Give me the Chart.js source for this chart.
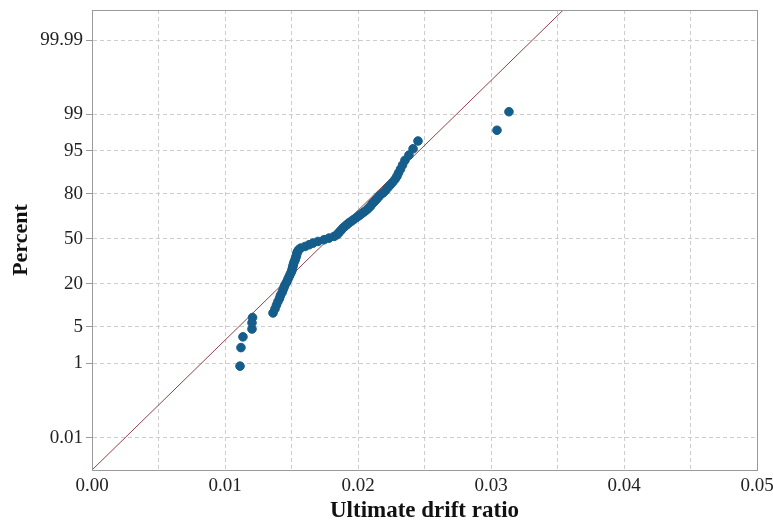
<!DOCTYPE html>
<html>
<head>
<meta charset="utf-8">
<script src="https://cdn.jsdelivr.net/npm/chart.js@4"></script>
<style>
  body { margin: 0; background: #fff; }
  #wrap { width: 773px; height: 524px; }
</style>
</head>
<body>
<div id="wrap"><canvas id="probPlot" width="773" height="524"></canvas></div>
<script>
// Ultimate drift ratio (sorted sample)
const driftRatio = [
  0.01113, 0.01120, 0.01135, 0.01203, 0.01203, 0.01207, 0.01361, 0.01376, 0.01387, 0.01398,
  0.01410, 0.01417, 0.01429, 0.01436, 0.01444, 0.01451, 0.01462, 0.01470, 0.01477, 0.01485,
  0.01492, 0.01500, 0.01504, 0.01508, 0.01511, 0.01515, 0.01519, 0.01526, 0.01530, 0.01534,
  0.01538, 0.01541, 0.01545, 0.01553, 0.01568, 0.01602, 0.01632, 0.01662, 0.01699, 0.01744,
  0.01782, 0.01820, 0.01842, 0.01853, 0.01865, 0.01876, 0.01887, 0.01902, 0.01917, 0.01932,
  0.01951, 0.01970, 0.01989, 0.02008, 0.02026, 0.02045, 0.02064, 0.02079, 0.02094, 0.02105,
  0.02120, 0.02135, 0.02150, 0.02165, 0.02188, 0.02207, 0.02222, 0.02241, 0.02259, 0.02278,
  0.02293, 0.02305, 0.02320, 0.02335, 0.02353, 0.02383, 0.02414, 0.02451, 0.03045, 0.03135
];

// Cumulative percent of each point
const percentRank = [
  0.87, 2.11, 3.36, 4.60, 5.85, 7.09, 8.33, 9.58, 10.82, 12.07,
  13.31, 14.55, 15.80, 17.04, 18.28, 19.53, 20.77, 22.01, 23.26, 24.50,
  25.75, 26.99, 28.23, 29.48, 30.72, 31.97, 33.21, 34.45, 35.70, 36.94,
  38.18, 39.43, 40.67, 41.92, 43.16, 44.40, 45.65, 46.89, 48.13, 49.38,
  50.62, 51.87, 53.11, 54.35, 55.60, 56.84, 58.08, 59.33, 60.57, 61.82,
  63.06, 64.30, 65.55, 66.79, 68.03, 69.28, 70.52, 71.77, 73.01, 74.25,
  75.50, 76.74, 77.99, 79.23, 80.47, 81.72, 82.96, 84.20, 85.45, 86.69,
  87.94, 89.18, 90.42, 91.67, 92.91, 94.15, 95.40, 96.64, 97.89, 99.13
];

// Fitted normal line (mean, standard deviation)
const fitMean = 0.0178;
const fitSigma = 0.00412;
const fitLineX = [0, 0.05];

// Percent axis ticks
const yTickPercents = [0.01, 1, 5, 20, 50, 80, 95, 99, 99.99];
const yTickLabels = ["0.01", "1", "5", "20", "50", "80", "95", "99", "99.99"];

// inverse of the standard normal CDF (Acklam)
function probit(p) {
    const a = [-3.969683028665376e+01, 2.209460984245205e+02, -2.759285104469687e+02, 1.383577518672690e+02, -3.066479806614716e+01, 2.506628277459239e+00];
    const b = [-5.447609879822406e+01, 1.615858368580409e+02, -1.556989798598866e+02, 6.680131188771972e+01, -1.328068155288572e+01];
    const c = [-7.784894002430293e-03, -3.223964580411365e-01, -2.400758277161838e+00, -2.549732539343734e+00, 4.374664141464968e+00, 2.938163982698783e+00];
    const d = [7.784695709041462e-03, 3.224671290700398e-01, 2.445134137142996e+00, 3.754408661907416e+00];
    const pl = 0.02425;
    let q, r;
    if (p < pl) {
        q = Math.sqrt(-2 * Math.log(p));
        return (((((c[0]*q+c[1])*q+c[2])*q+c[3])*q+c[4])*q+c[5]) / ((((d[0]*q+d[1])*q+d[2])*q+d[3])*q+1);
    }
    if (p > 1 - pl) {
        q = Math.sqrt(-2 * Math.log(1 - p));
        return -(((((c[0]*q+c[1])*q+c[2])*q+c[3])*q+c[4])*q+c[5]) / ((((d[0]*q+d[1])*q+d[2])*q+d[3])*q+1);
    }
    q = p - 0.5;
    r = q * q;
    return (((((a[0]*r+a[1])*r+a[2])*r+a[3])*r+a[4])*r+a[5])*q / (((((b[0]*r+b[1])*r+b[2])*r+b[3])*r+b[4])*r+1);
}

const yTickZ = yTickPercents.map((p) => probit(p / 100));
const puntos = driftRatio.map((x, i) => ({ x: x, y: probit(percentRank[i] / 100) }));
const linea = fitLineX.map((x) => ({ x: x, y: (x - fitMean) / fitSigma }));

// marco completo alrededor del area de trazado
const marco = {
    id: "marco",
    afterDatasetsDraw(chart) {
        const { ctx, chartArea: a } = chart;
        ctx.save();
        ctx.strokeStyle = "#9a9a9a";
        ctx.lineWidth = 1;
        ctx.strokeRect(a.left + 0.5, a.top + 0.5, a.right - a.left, a.bottom - a.top);
        ctx.restore();
    }
};

const serif = "'Liberation Serif', 'Times New Roman', serif";

new Chart(document.getElementById("probPlot").getContext("2d"), {
    type: "scatter",
    data: {
        datasets: [
            {
                data: puntos,
                backgroundColor: "#155d8b",
                borderColor: "#155d8b",
                pointRadius: 4.3,
                pointHoverRadius: 4.3,
                order: 0
            },
            {
                type: "line",
                data: linea,
                borderColor: "#8e4246",
                borderWidth: 1,
                pointRadius: 0,
                fill: false,
                order: 1
            }
        ]
    },
    options: {
        responsive: false,
        animation: false,
        layout: { padding: { left: 0, right: 16, top: 10, bottom: 0 } },
        plugins: { legend: { display: false }, tooltip: { enabled: false } },
        scales: {
            x: {
                type: "linear",
                min: 0,
                max: 0.05,
                afterFit(scale) {
                    scale.height = 54;
                    scale.paddingLeft = 0;
                    scale.paddingRight = 0;
                },
                border: { display: true, color: "#9a9a9a", dash: [4, 3] },
                grid: { color: "#cdcdcd", drawTicks: false },
                ticks: {
                    stepSize: 0.005,
                    autoSkip: false,
                    maxRotation: 0,
                    padding: 5,
                    color: "#222",
                    font: { family: serif, size: 19 },
                    callback(v) {
                        return Math.abs(v * 100 - Math.round(v * 100)) < 1e-6 ? v.toFixed(2) : "";
                    }
                },
                title: {
                    display: true,
                    text: "Ultimate drift ratio",
                    color: "#111",
                    font: { family: serif, size: 23, weight: "bold" },
                    padding: { top: 0, bottom: -1 }
                }
            },
            y: {
                type: "linear",
                min: -4.32,
                max: 4.28,
                afterFit(scale) {
                    scale.width = 92;
                    scale.paddingTop = 0;
                    scale.paddingBottom = 0;
                },
                afterBuildTicks(scale) {
                    scale.ticks = yTickZ.map((z) => ({ value: z }));
                },
                border: { display: true, color: "#9a9a9a", dash: [4, 3] },
                grid: { color: "#cdcdcd", tickLength: 6, tickColor: "#9a9a9a" },
                ticks: {
                    padding: 3,
                    color: "#222",
                    font: { family: serif, size: 19 },
                    callback(v) {
                        let k = 0;
                        yTickZ.forEach((z, i) => { if (Math.abs(z - v) < Math.abs(yTickZ[k] - v)) k = i; });
                        return yTickLabels[k];
                    }
                },
                title: {
                    display: true,
                    text: "Percent",
                    color: "#111",
                    font: { family: serif, size: 22, weight: "bold" },
                    padding: { top: 8, bottom: 0 }
                }
            }
        }
    },
    plugins: [marco]
});
</script>
</body>
</html>
